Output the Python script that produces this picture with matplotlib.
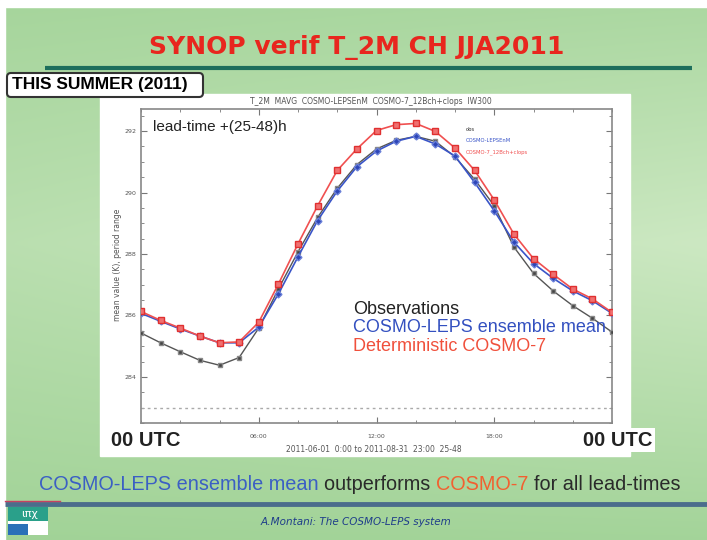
import numpy as np
import matplotlib
matplotlib.use("Agg")
from matplotlib import pyplot as plt
from matplotlib.patches import Rectangle, FancyBboxPatch

# hourly mean T_2M (K), lead-time +(25-48)h, JJA 2011
hours = list(range(25))
obs = [285.43, 285.11, 284.82, 284.54, 284.38, 284.63, 285.59, 286.86, 288.07,
       289.19, 290.14, 290.91, 291.42, 291.70, 291.83, 291.67, 291.16, 290.43,
       289.57, 288.23, 287.37, 286.80, 286.32, 285.91, 285.46]
leps = [286.07, 285.81, 285.56, 285.33, 285.11, 285.11, 285.62, 286.70, 287.91,
        289.09, 290.05, 290.84, 291.35, 291.67, 291.83, 291.58, 291.19, 290.33,
        289.41, 288.39, 287.69, 287.21, 286.80, 286.48, 286.07]
cosmo7 = [286.13, 285.84, 285.59, 285.33, 285.11, 285.14, 285.78, 287.02, 288.33,
          289.57, 290.72, 291.42, 292.02, 292.21, 292.25, 291.99, 291.45, 290.72,
          289.76, 288.65, 287.85, 287.34, 286.86, 286.54, 286.10]
n_cases_level = 282.98

ytick_vals = [284, 286, 288, 290, 292]
xtick_vals = [6, 12, 18]
xtick_labels = ["06:00", "12:00", "18:00"]

W, H = 707, 540
fig = plt.figure(figsize=(W / 100, H / 100), dpi=100)

# slide background (pixel coordinates)
bg = fig.add_axes([0, 0, 1, 1])
bg.set_xlim(0, W)
bg.set_ylim(H, 0)
bg.axis("off")
rows = np.linspace(0, 1, 200)[:, None]
cols = np.linspace(0, 1, 200)[None, :]
top = np.array([0.62, 0.82, 0.58])
mid = np.array([0.80, 0.91, 0.76])
g = 1 - np.abs(rows - 0.45) * 1.6
g = np.clip(g, 0, 1) * (0.6 + 0.4 * cols)
img = top[None, None, :] + (mid - top)[None, None, :] * g[:, :, None]
bg.imshow(img, extent=(0, W, H, 0), aspect="auto", zorder=0)
bg.add_patch(Rectangle((0, 0), W, 7, color="white", zorder=1))
bg.add_patch(Rectangle((0, 0), 5, H, color="white", zorder=1))

bg.text(357, 48, "SYNOP verif T_2M CH JJA2011", color="#e8261e", fontsize=18,
        fontweight="bold", ha="center", va="center", family="DejaVu Sans")
bg.plot([45, 692], [68, 68], color="#1d6e5c", lw=3, solid_capstyle="butt")

bg.add_patch(FancyBboxPatch((7, 73), 196, 24, boxstyle="round,pad=0,rounding_size=4",
                            fc="white", ec="#333333", lw=1.5, zorder=3))
bg.text(12, 85, "THIS SUMMER (2011)", fontsize=12.5, fontweight="bold",
        family="Liberation Sans", va="center", ha="left", zorder=4)

# white panel behind the chart
bg.add_patch(Rectangle((100, 94), 530, 362, color="white", zorder=2))
bg.text(371, 101, "T_2M  MAVG  COSMO-LEPSEnM  COSMO-7_12Bch+clops  IW300",
        fontsize=5.5, color="#555555", ha="center", va="center", zorder=3)
bg.text(374, 450, "2011-06-01  0:00 to 2011-08-31  23:00  25-48",
        fontsize=5.5, color="#555555", ha="center", va="center", zorder=3)
bg.text(111, 440, "00 UTC", fontsize=14.5, fontweight="bold", family="Liberation Sans",
        va="center", ha="left", color="#222222", zorder=3)
bg.text(583, 440, "00 UTC", fontsize=14.5, fontweight="bold", family="Liberation Sans",
        va="center", ha="left", color="#222222", zorder=3,
        bbox=dict(fc="white", ec="none", pad=2))
bg.text(117, 265, "mean value (K), period range", rotation=90, fontsize=5.5,
        color="#555555", ha="center", va="center", zorder=3)

# bottom statement with coloured parts
parts = [("COSMO-LEPS ensemble mean ", "#3b5fc4"), ("outperforms ", "#2a2a2a"),
         ("COSMO-7 ", "#f26030"), ("for all lead-times", "#2a2a2a")]
fs = 14.3
fig.canvas.draw()
renderer = fig.canvas.get_renderer()
widths = []
for s, c in parts:
    t = bg.text(0, 0, s, fontsize=fs, family="Liberation Sans")
    widths.append(t.get_window_extent(renderer).width)
    t.remove()
x = 360 - sum(widths) / 2
for (s, c), w in zip(parts, widths):
    bg.text(x, 485, s, fontsize=fs, family="Liberation Sans", color=c,
            va="center", ha="left")
    x += w
bg.plot([5, W], [504, 504], color="#4b6d8c", lw=3.5, solid_capstyle="butt")
bg.plot([5, 60], [501, 501], color="#c84060", lw=1)

# logo
bg.add_patch(Rectangle((8, 507), 40, 28, fc="white", ec="none"))
bg.add_patch(Rectangle((8, 507), 40, 14, fc="#2aa08a", ec="none"))
bg.add_patch(Rectangle((8, 524), 20, 11, fc="#2a70b8", ec="none"))
bg.text(30, 514, "ιπχ", fontsize=8, color="white", ha="center", va="center")
bg.text(356, 522, "A.Montani: The COSMO-LEPS system", fontsize=7.5, style="italic",
        color="#1f3d8a", ha="center", va="center")

# chart
ax = fig.add_axes([141 / W, 1 - 423 / H, 471 / W, 314 / H])
ax.plot(hours, obs, color="#555555", lw=1, marker="s", ms=3.5,
        mfc="#444444", mec="#888888", zorder=3)
ax.plot(hours, leps, color="#3a55c8", lw=1.2, marker="D", ms=3.5,
        mfc="#2e46b8", mec="#6a80d8", zorder=4)
ax.plot(hours, cosmo7, color="#f05050", lw=1.2, marker="s", ms=4,
        mfc="#f07070", mec="#e03030", zorder=5)
ax.plot([0, 24], [n_cases_level, n_cases_level], color="#aaaaaa", lw=1,
        ls=(0, (2, 2.5)))
ax.set_xlim(0, 24)
ax.set_ylim(282.72, 292.72)
ax.set_xticks(xtick_vals)
ax.set_xticklabels(xtick_labels)
ax.set_xticks(range(0, 25, 2), minor=True)
ax.set_yticks(ytick_vals)
ax.set_yticks(np.arange(282.5, 292.8, 0.5), minor=True)
ax.tick_params(which="both", direction="in", top=True, right=True,
               labelsize=4.5, labelcolor="#555555", color="#777777")
ax.tick_params(which="major", length=4)
ax.tick_params(which="minor", length=2)
ax.tick_params(axis="x", pad=8)
for sp in ax.spines.values():
    sp.set_color("#888888")
    sp.set_linewidth(1.2)

ax.text(0.025, 0.93, "lead-time +(25-48)h", transform=ax.transAxes,
        fontsize=11, family="Liberation Sans", color="#222222")

# small legend
for yy, lab, c in [(0.93, "obs", "#333333"), (0.895, "COSMO-LEPSEnM", "#3a55c8"),
                   (0.86, "COSMO-7_12Bch+clops", "#f05050")]:
    ax.text(0.69, yy, lab, transform=ax.transAxes, fontsize=3.8, color=c)

# big legend
for yy, lab, c in [(0.36, "Observations", "#222222"),
                   (0.303, "COSMO-LEPS ensemble mean", "#3350c0"),
                   (0.245, "Deterministic COSMO-7", "#f0503c")]:
    ax.text(0.45, yy, lab, transform=ax.transAxes, fontsize=13,
            family="Liberation Sans", color=c, va="center")

fig.savefig("out.png", dpi=100)
